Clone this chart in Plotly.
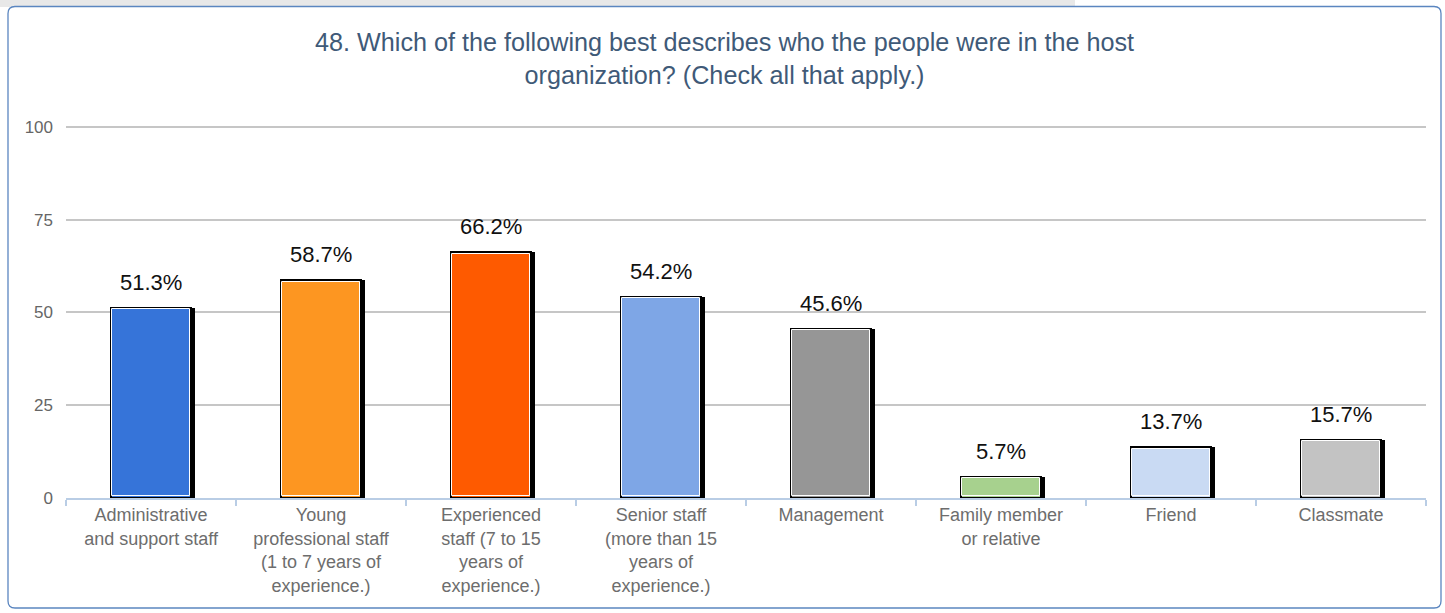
import plotly.graph_objects as go

categories = [
    "Administrative<br>and support staff",
    "Young<br>professional staff<br>(1 to 7 years of<br>experience.)",
    "Experienced<br>staff (7 to 15<br>years of<br>experience.)",
    "Senior staff<br>(more than 15<br>years of<br>experience.)",
    "Management",
    "Family member<br>or relative",
    "Friend",
    "Classmate",
]
values = [51.3, 58.7, 66.2, 54.2, 45.6, 5.7, 13.7, 15.7]
colors = ["#3674d9", "#fd9621", "#fe5a00", "#7ea6e6", "#969696", "#a7d18e", "#c9daf3", "#c3c3c3"]
y_ticks = [0, 25, 50, 75, 100]
title_text = ("48. Which of the following best describes who the people were in the host"
              "<br>organization? (Check all that apply.)")

W, H = 1445, 613
Y_MAX = 100.5
ML, MR, MT, MB = 66, 19, 125, 115
PW, PH = W - ML - MR, H - MT - MB
PX_X = PW / len(categories)      # pixels per category
PX_Y = PH / Y_MAX                 # pixels per y unit
BW = 0.475
OFF = -BW / 2
SH = 4 / PX_X

fig = go.Figure()
# shadow
fig.add_trace(go.Bar(x=categories, y=values, width=BW, offset=OFF + SH,
                     marker=dict(color="#000000", line=dict(width=0)),
                     hoverinfo="skip", showlegend=False))
# main bars
fig.add_trace(go.Bar(x=categories, y=values, width=BW, offset=OFF,
                     marker=dict(color=colors, line=dict(color="#000000", width=2)),
                     showlegend=False))
# inner white outline
ins_x = 1.6 / PX_X
ins_y = 1.6 / PX_Y
fig.add_trace(go.Bar(x=categories, y=[v - 2 * ins_y for v in values], base=ins_y,
                     width=BW - 2 * ins_x, offset=OFF + ins_x,
                     marker=dict(color="rgba(0,0,0,0)", line=dict(color="#ffffff", width=1)),
                     hoverinfo="skip", showlegend=False))

for c, v in zip(categories, values):
    fig.add_annotation(x=c, y=v, text=f"{v:.1f}%", showarrow=False,
                       yanchor="bottom", yshift=11, xshift=0,
                       font=dict(family="Liberation Sans, Arial", size=22, color="#111111"))

# page decorations (panel with rounded border, grey strip on top)
def px_to_paper_x(px):
    return (px - ML) / PW

def px_to_paper_y(py):
    return (H - MB - py) / PH

fig.add_shape(type="rect", xref="paper", yref="paper", layer="below",
              x0=px_to_paper_x(0), x1=px_to_paper_x(1075),
              y0=px_to_paper_y(7), y1=px_to_paper_y(0),
              fillcolor="#e8e8e8", line=dict(width=0))

x0, x1, y0, y1, r = 8, 1441, 6.5, 608, 7
rx, ry = r / PW, r / PH
X0, X1, Y0, Y1 = px_to_paper_x(x0), px_to_paper_x(x1), px_to_paper_y(y0), px_to_paper_y(y1)
path = (f"M {X0+rx},{Y0} L {X1-rx},{Y0} Q {X1},{Y0} {X1},{Y0-ry} "
        f"L {X1},{Y1+ry} Q {X1},{Y1} {X1-rx},{Y1} L {X0+rx},{Y1} Q {X0},{Y1} {X0},{Y1+ry} "
        f"L {X0},{Y0-ry} Q {X0},{Y0} {X0+rx},{Y0} Z")
fig.add_shape(type="path", xref="paper", yref="paper", path=path, layer="below",
              fillcolor="#ffffff", line=dict(color="#5b86c0", width=1.3))

fig.add_annotation(xref="paper", yref="paper", x=px_to_paper_x(724.5), y=px_to_paper_y(26),
                   xanchor="center", yanchor="top", showarrow=False, align="center",
                   text=title_text,
                   font=dict(family="Liberation Sans, Arial", size=25.2, color="#3f5a78"))

fig.update_layout(
    width=W, height=H,
    margin=dict(l=ML, r=MR, t=MT, b=MB, pad=0),
    paper_bgcolor="#ffffff", plot_bgcolor="rgba(0,0,0,0)",
    barmode="overlay", bargap=0,
    font=dict(family="Liberation Sans, Arial"),
)
fig.update_xaxes(type="category", showline=True, linecolor="#b9cde5", linewidth=1.5,
                 ticks="outside", tickson="boundaries", ticklen=6, tickcolor="#b9cde5", tickwidth=1.5,
                 showgrid=False, tickfont=dict(size=18, color="#6d6d6d"), fixedrange=True)
fig.update_yaxes(range=[0, Y_MAX], tickvals=y_ticks, showgrid=True, gridcolor="#c6c6c6", gridwidth=1.5,
                 zeroline=False, showline=False, ticks="", ticklabelstandoff=12,
                 tickfont=dict(size=17, color="#666666"), fixedrange=True)

fig.write_html("out.html", config={"displayModeBar": False},
               post_script="document.body.style.margin='0';document.body.style.overflow='hidden';")
